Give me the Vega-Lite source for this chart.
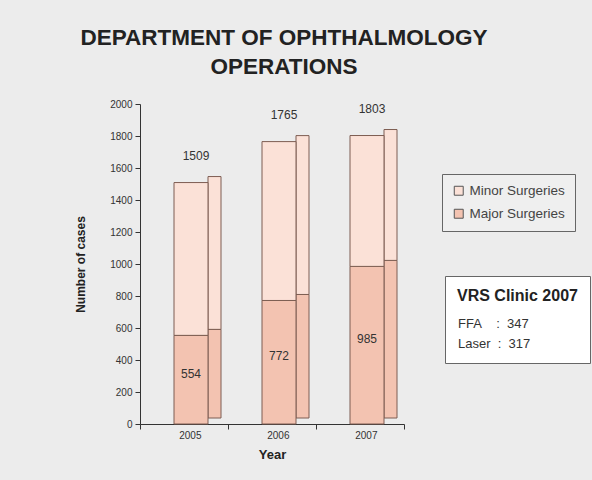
{
  "$schema": "https://vega.github.io/schema/vega-lite/v6.json",
  "width": 264,
  "height": 320,
  "autosize": {"type": "none"},
  "padding": {"left": 140, "top": 104, "right": 188, "bottom": 56},
  "background": "#ececec",
  "title": {
    "text": ["DEPARTMENT OF OPHTHALMOLOGY", "OPERATIONS"],
    "font": "Liberation Sans",
    "fontSize": 22.5,
    "fontWeight": "bold",
    "color": "#222222",
    "lineHeight": 28.5,
    "anchor": "middle",
    "dx": 12,
    "offset": 21
  },
  "config": {
    "view": {"stroke": null},
    "font": "Liberation Sans"
  },
  "data": {
    "values": [
      {"year": "2005", "type": "Major Surgeries", "value": 554},
      {"year": "2005", "type": "Minor Surgeries", "value": 955},
      {"year": "2006", "type": "Major Surgeries", "value": 772},
      {"year": "2006", "type": "Minor Surgeries", "value": 993},
      {"year": "2007", "type": "Major Surgeries", "value": 985},
      {"year": "2007", "type": "Minor Surgeries", "value": 818}
    ]
  },
  "layer": [
    {
      "mark": {"type": "bar", "size": 13, "xOffset": 30.5, "yOffset": -6, "y2Offset": -6, "stroke": "#7d5d52", "strokeWidth": 1},
      "encoding": {
        "x": {"field": "year", "type": "nominal"},
        "y": {"field": "value", "type": "quantitative", "stack": "zero", "scale": {"domain": [0, 2000]}, "axis": null},
        "order": {"field": "type", "sort": "ascending"},
        "color": {
          "field": "type", "type": "nominal",
          "scale": {"domain": ["Minor Surgeries", "Major Surgeries"], "range": ["#fbe1d7", "#f3c3b1"]},
          "legend": {
            "title": null, "orient": "none", "legendX": 302, "legendY": 70,
            "symbolType": "square", "symbolSize": 80, "symbolStrokeColor": "#555", "symbolStrokeWidth": 1,
            "labelFontSize": 13.5, "labelColor": "#444",
            "strokeColor": "#666", "padding": 10, "rowPadding": 8, "fillColor": "#efefef"
          }
        }
      }
    },
    {
      "mark": {"type": "bar", "size": 34, "xOffset": 7, "stroke": "#7d5d52", "strokeWidth": 1},
      "encoding": {
        "x": {
          "field": "year", "type": "nominal",
          "scale": {"paddingInner": 0, "paddingOuter": 0},
          "axis": {
            "title": "Year", "titleFontSize": 13, "titleFontWeight": "bold", "titleColor": "#222",
            "titlePadding": 8,
            "labelAngle": 0, "labelFontSize": 10, "labelColor": "#333",
            "tickBand": "extent", "labelOffset": 17, "labelPadding": 6,
            "tickColor": "#333", "domainColor": "#333", "tickSize": 5
          }
        },
        "y": {
          "field": "value", "type": "quantitative", "stack": "zero",
          "scale": {"domain": [0, 2000]},
          "axis": {
            "title": "Number of cases", "titleFontSize": 12, "titleFontWeight": "bold", "titleColor": "#222",
            "titlePadding": 22, "format": "d",
            "values": [0, 200, 400, 600, 800, 1000, 1200, 1400, 1600, 1800, 2000],
            "labelFontSize": 10, "labelColor": "#333", "grid": false,
            "tickColor": "#333", "domainColor": "#333", "tickSize": 5, "labelPadding": 3
          }
        },
        "order": {"field": "type", "sort": "ascending"},
        "color": {
          "field": "type", "type": "nominal",
          "scale": {"domain": ["Minor Surgeries", "Major Surgeries"], "range": ["#fbe1d7", "#f3c3b1"]},
          "legend": {
            "title": null, "orient": "none", "legendX": 302, "legendY": 70,
            "symbolType": "square", "symbolSize": 80, "symbolStrokeColor": "#555", "symbolStrokeWidth": 1,
            "labelFontSize": 13.5, "labelColor": "#444",
            "strokeColor": "#666", "padding": 10, "rowPadding": 8, "fillColor": "#efefef"
          }
        }
      }
    },
    {
      "mark": {"type": "text", "dy": -27, "xOffset": 12, "fontSize": 12, "color": "#333"},
      "encoding": {
        "x": {"field": "year", "type": "nominal"},
        "y": {"aggregate": "sum", "field": "value", "type": "quantitative", "scale": {"domain": [0, 2000]}, "axis": null},
        "text": {"aggregate": "sum", "field": "value", "type": "quantitative"}
      }
    },
    {
      "transform": [{"filter": "datum.type == 'Major Surgeries'"}],
      "mark": {"type": "text", "dy": -6, "xOffset": 7, "fontSize": 12, "color": "#333"},
      "encoding": {
        "x": {"field": "year", "type": "nominal"},
        "y": {"field": "value", "type": "quantitative", "scale": {"domain": [0, 4000]}, "axis": null},
        "text": {"field": "value", "type": "quantitative"}
      }
    },
    {
      "data": {"values": [{"vrs": "FFA\u00a0\u00a0\u00a0\u00a0:\u00a0\u00a0347"}, {"vrs": "Laser\u00a0\u00a0:\u00a0\u00a0317"}]},
      "mark": {"type": "point", "opacity": 0},
      "encoding": {
        "shape": {
          "field": "vrs", "type": "nominal",
          "legend": {
            "title": "VRS Clinic 2007", "titleFontSize": 16, "titleFontWeight": "bold", "titleColor": "#222",
            "titlePadding": 13,
            "orient": "none", "legendX": 305, "legendY": 172,
            "symbolOpacity": 0, "symbolSize": 0, "symbolStrokeWidth": 0,
            "labelFontSize": 13, "labelColor": "#333", "labelOffset": -12,
            "strokeColor": "#666", "padding": 12, "rowPadding": 6, "fillColor": "#ffffff"
          }
        }
      }
    }
  ],
  "resolve": {"scale": {"y": "independent"}}
}
